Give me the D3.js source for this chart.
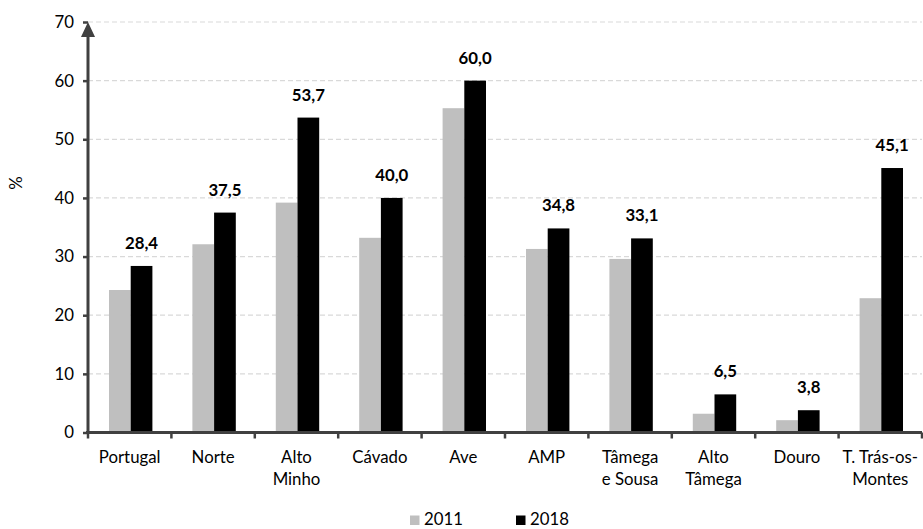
<!DOCTYPE html>
<html><head><meta charset="utf-8">
<script src="https://cdn.jsdelivr.net/npm/d3@7"></script>
<style>body{margin:0;background:#fff;} text{font-family:Lato,"Open Sans",sans-serif;}</style>
</head><body>
<svg id="chart" width="923" height="529"></svg>
<script>
const categories = [["Portugal"],["Norte"],["Alto","Minho"],["Cávado"],["Ave"],["AMP"],["Tâmega","e Sousa"],["Alto","Tâmega"],["Douro"],["T. Trás-os-","Montes"]];
const values2011 = [24.3, 32.1, 39.2, 33.2, 55.3, 31.3, 29.6, 3.2, 2.1, 22.9];
const values2018 = [28.4, 37.5, 53.7, 40.0, 60.0, 34.8, 33.1, 6.5, 3.8, 45.1];
const yTicks = [0,10,20,30,40,50,60,70];
const seriesNames = ["2011","2018"];
const colors = ["#bfbfbf","#000000"];

const FS = 16.8;
const svg = d3.select("#chart");
const x0 = 88, x1 = 922, yBase = 432.5, yTop = 22;
const x = d3.scaleBand().domain(d3.range(categories.length)).range([x0, x1]).paddingInner(0).paddingOuter(0);
const y = d3.scaleLinear().domain([0,70]).range([yBase, yTop]);
const barW = 21.7;

// gridlines
svg.append("g").selectAll("line").data(yTicks.filter(t=>t>0)).join("line")
  .attr("x1", x0).attr("x2", x1).attr("y1", d=>y(d)).attr("y2", d=>y(d))
  .attr("stroke","#d9d9d9").attr("stroke-width",1.2).attr("stroke-dasharray","5,3");

// bars
const g = svg.append("g");
categories.forEach((c,i)=>{
  const cx = x(i) + x.bandwidth()/2 + 1;
  [values2011[i], values2018[i]].forEach((v,j)=>{
    g.append("rect").attr("x", cx - barW + j*barW).attr("y", y(v))
      .attr("width", barW).attr("height", yBase - y(v)).attr("fill", colors[j]);
  });
  g.append("text").attr("x", cx + barW/2).attr("y", y(values2018[i]) - 17)
    .attr("text-anchor","middle").attr("font-size",FS).attr("font-weight","bold").attr("fill","#000")
    .text(values2018[i].toFixed(1).replace(".",","));
});

// y axis
const yAxis = d3.axisLeft(y).tickValues(yTicks).tickSize(5).tickPadding(9).tickFormat(d3.format("d"));
const ya = svg.append("g").attr("transform",`translate(${x0},0)`).call(yAxis);
ya.select(".domain").remove();
ya.selectAll(".tick line").attr("stroke","#404040").attr("stroke-width",2.5);
ya.selectAll(".tick text").attr("font-size",FS).attr("fill","#000").style("font-family","Lato");
svg.append("line").attr("x1",x0).attr("x2",x0).attr("y1",yBase+1).attr("y2",yTop+14)
  .attr("stroke","#404040").attr("stroke-width",3);
svg.append("path").attr("d",`M${x0-7},${yTop+15} L${x0},${yTop} L${x0+7},${yTop+15} Z`).attr("fill","#404040");

// x axis
svg.append("line").attr("x1",x0-2).attr("x2",x1).attr("y1",yBase).attr("y2",yBase)
  .attr("stroke","#404040").attr("stroke-width",3);
svg.append("g").selectAll("line").data(d3.range(categories.length+1)).join("line")
  .attr("x1", i=> i<categories.length ? x(i) : x1).attr("x2", i=> i<categories.length ? x(i) : x1)
  .attr("y1", yBase).attr("y2", yBase+6).attr("stroke","#404040").attr("stroke-width",2.5);

const xl = svg.append("g");
categories.forEach((c,i)=>{
  const t = xl.append("text").attr("text-anchor","middle").attr("font-size",FS).attr("fill","#000");
  c.forEach((line,k)=>{
    t.append("tspan").attr("x", x(i)+x.bandwidth()/2).attr("y", 463 + k*22).text(line);
  });
});

// y label
svg.append("text").attr("transform","translate(22,183) rotate(-90)").attr("text-anchor","middle")
  .attr("font-size",FS).attr("fill","#000").text("%");

// legend
const lg = svg.append("g");
const legX = [410, 516];
seriesNames.forEach((s,i)=>{
  lg.append("rect").attr("x",legX[i]).attr("y",515.5).attr("width",9.5).attr("height",9.5).attr("fill",colors[i]);
  lg.append("text").attr("x",legX[i]+14).attr("y",525).attr("font-size",FS).attr("fill","#000").text(s);
});
</script>
</body></html>
